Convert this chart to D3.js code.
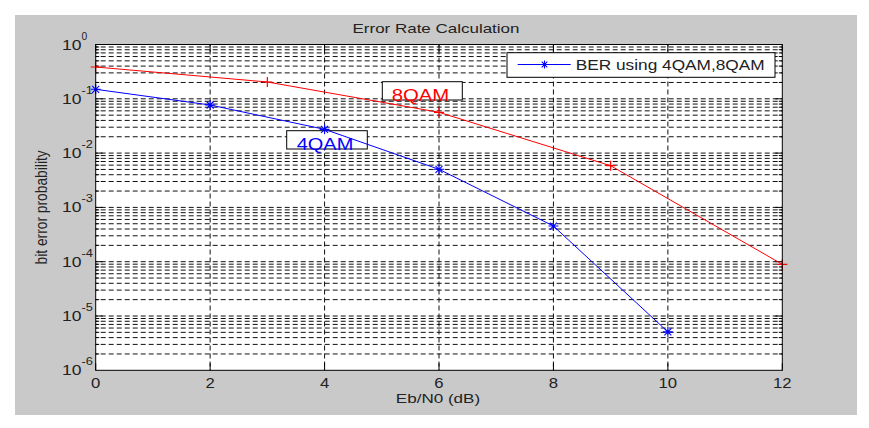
<!DOCTYPE html>
<html><head><meta charset="utf-8">
<script src="https://cdn.jsdelivr.net/npm/d3@7"></script>
<style>html,body{margin:0;padding:0;background:#fff}svg{display:block}</style>
</head><body>
<svg id="c" width="869" height="428"></svg>
<script>
// ---- data ----
const snr8 = [0, 3, 6, 9, 12];
const ber8 = [0.385, 0.204, 0.0564, 0.00586, 8.95e-5];
const snr4 = [0, 2, 4, 6, 8, 10];
const ber4 = [0.1496, 0.0769, 0.0274, 0.00503, 4.54e-4, 5.1e-6];
const xTicks = [0, 2, 4, 6, 8, 10, 12];
const yExponents = [0, -1, -2, -3, -4, -5, -6];
const titleText = "Error Rate Calculation";
const xLabel = "Eb/N0 (dB)";
const yLabel = "bit error probability";
const legendText = "BER using 4QAM,8QAM";

const svg = d3.select("#c");
const L = 95.7, R = 782.3, T = 44.5, B = 370.3;
const x = d3.scaleLinear().domain([0, 12]).range([L, R]);
const y = d3.scaleLog().domain([1e-6, 1]).range([B, T]);
const font = "'Liberation Sans', Arial, sans-serif";
const txtCol = "#222";

// gray figure background
svg.append("rect").attr("x", 15).attr("y", 15).attr("width", 842).attr("height", 400).attr("fill", "#c9c9c9");
// axes white
svg.append("rect").attr("x", L).attr("y", T).attr("width", R - L).attr("height", B - T).attr("fill", "#fff");

// grid
const grid = svg.append("g").attr("stroke", "#111").attr("stroke-width", 1).attr("stroke-dasharray", "5,3").attr("stroke-dashoffset", -5);
xTicks.slice(1, -1).forEach(v => {
  grid.append("line").attr("x1", x(v)).attr("x2", x(v)).attr("y1", T).attr("y2", B);
});
const yGridVals = [];
for (let e = -6; e < 0; e++) for (let m = 1; m <= 9; m++) { const v = m * Math.pow(10, e); if (v > 1e-6) yGridVals.push(v); }
yGridVals.forEach(v => {
  grid.append("line").attr("x1", L).attr("x2", R).attr("y1", y(v)).attr("y2", y(v));
});

// ticks
const tk = svg.append("g").attr("stroke", "#000").attr("stroke-width", 1);
xTicks.forEach(v => {
  tk.append("line").attr("x1", x(v)).attr("x2", x(v)).attr("y1", B).attr("y2", B - 7);
  tk.append("line").attr("x1", x(v)).attr("x2", x(v)).attr("y1", T).attr("y2", T + 7);
});
yGridVals.concat([1]).forEach(v => {
  const major = Math.abs(Math.log10(v) - Math.round(Math.log10(v))) < 1e-9;
  const len = major ? 7 : 3.5;
  tk.append("line").attr("x1", L).attr("x2", L + len).attr("y1", y(v)).attr("y2", y(v));
  tk.append("line").attr("x1", R).attr("x2", R - len).attr("y1", y(v)).attr("y2", y(v));
});

// annotation boxes (under lines)
svg.append("rect").attr("x", 382.3).attr("y", 81.7).attr("width", 80).attr("height", 18.3)
  .attr("fill", "#fff").attr("stroke", "#000").attr("stroke-width", 1);
svg.append("rect").attr("x", 286.7).attr("y", 130.7).attr("width", 80.6).attr("height", 18.3)
  .attr("fill", "#fff").attr("stroke", "#000").attr("stroke-width", 1);

// lines
const line = d3.line().x(d => x(d[0])).y(d => y(d[1]));
const d8 = snr8.map((s, i) => [s, ber8[i]]);
const d4 = snr4.map((s, i) => [s, ber4[i]]);
svg.append("path").attr("d", line(d8)).attr("fill", "none").attr("stroke", "#ff0000").attr("stroke-width", 1);
svg.append("path").attr("d", line(d4)).attr("fill", "none").attr("stroke", "#0000ff").attr("stroke-width", 1);

function plus(g, cx, cy, s, col) {
  g.append("path").attr("d", `M${cx - s},${cy}H${cx + s}M${cx},${cy - s}V${cy + s}`).attr("stroke", col).attr("stroke-width", 1.2);
}
function star(g, cx, cy, s, col) {
  const d = s * 0.7;
  g.append("path").attr("d", `M${cx - s},${cy}H${cx + s}M${cx},${cy - s}V${cy + s}M${cx - d},${cy - d}L${cx + d},${cy + d}M${cx - d},${cy + d}L${cx + d},${cy - d}`)
    .attr("stroke", col).attr("stroke-width", 1.1);
}
const mk = svg.append("g");
d8.forEach(d => plus(mk, x(d[0]), y(d[1]), 5, "#ff0000"));
d4.forEach(d => star(mk, x(d[0]), y(d[1]), 5, "#0000ff"));

// frame
svg.append("rect").attr("x", L).attr("y", T).attr("width", R - L).attr("height", B - T)
  .attr("fill", "none").attr("stroke", "#000").attr("stroke-width", 1);

// text helper
function txt(str, px, py, size, width, anchor, col) {
  const t = svg.append("text").attr("x", px).attr("y", py).attr("font-family", font)
    .attr("font-size", size).attr("fill", col || txtCol).attr("text-anchor", anchor || "start").text(str);
  if (width) t.attr("textLength", width).attr("lengthAdjust", "spacingAndGlyphs");
  return t;
}

// annotation texts
txt("8QAM", 391.7, 100.5, 17, 57.6, "start", "#ff0000");
txt("4QAM", 296.7, 150, 17, 56.6, "start", "#0000ff");

// title, labels
txt(titleText, 436, 33.3, 13, 167, "middle");
txt(xLabel, 438, 403, 13.5, 84.3, "middle");
svg.append("text").attr("transform", `translate(47,${(T + B) / 2}) scale(1.2,1) rotate(-90)`)
  .attr("font-family", font).attr("font-size", 13.8).attr("fill", txtCol).attr("text-anchor", "middle")
  .text(yLabel);

// x tick labels
xTicks.forEach(v => {
  const w = String(v).length * 9.3;
  txt(String(v), x(v), 388, 14.5, w, "middle");
});
// y tick labels
yExponents.forEach(e => {
  const ty = y(Math.pow(10, e));
  txt("10", 62, ty + 5, 14, 19.5, "start");
  const sup = String(e);
  txt(sup, 81.5, ty - 5, 10, sup.length * 5.7, "start");
});

// legend
svg.append("rect").attr("x", 507).attr("y", 52.7).attr("width", 268).attr("height", 24.6)
  .attr("fill", "#fff").attr("stroke", "#000").attr("stroke-width", 1);
svg.append("line").attr("x1", 517.7).attr("x2", 570.7).attr("y1", 64.5).attr("y2", 64.5).attr("stroke", "#0000ff").attr("stroke-width", 1);
star(svg, 544.5, 64.5, 4, "#0000ff");
txt(legendText, 575.7, 69.6, 14.5, 189, "start");
</script>
</body></html>
